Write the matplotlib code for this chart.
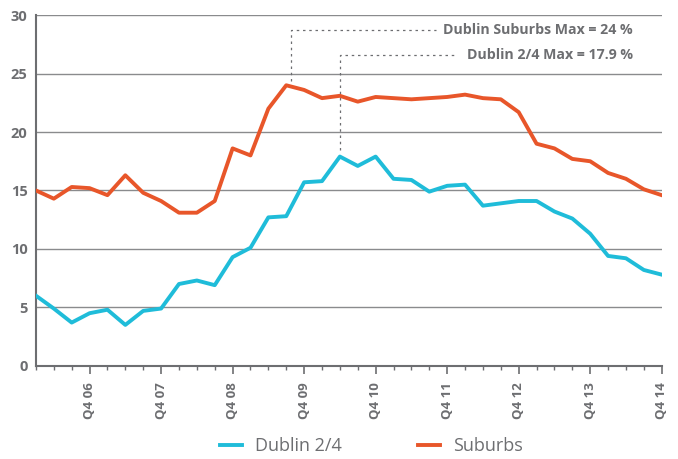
import matplotlib.pyplot as plt
import numpy as np

quarters = ['Q1 06', 'Q2 06', 'Q3 06', 'Q4 06', 'Q1 07', 'Q2 07', 'Q3 07', 'Q4 07',
            'Q1 08', 'Q2 08', 'Q3 08', 'Q4 08', 'Q1 09', 'Q2 09', 'Q3 09', 'Q4 09',
            'Q1 10', 'Q2 10', 'Q3 10', 'Q4 10', 'Q1 11', 'Q2 11', 'Q3 11', 'Q4 11',
            'Q1 12', 'Q2 12', 'Q3 12', 'Q4 12', 'Q1 13', 'Q2 13', 'Q3 13', 'Q4 13',
            'Q1 14', 'Q2 14', 'Q3 14', 'Q4 14']

dublin24 = [6.0, 4.9, 3.7, 4.5, 4.8, 3.5, 4.7, 4.9, 7.0, 7.3, 6.9, 9.3,
            10.1, 12.7, 12.8, 15.7, 15.8, 17.9, 17.1, 17.9, 16.0, 15.9, 14.9, 15.4,
            15.5, 13.7, 13.9, 14.1, 14.1, 13.2, 12.6, 11.3, 9.4, 9.2, 8.2, 7.8]

suburbs = [15.0, 14.3, 15.3, 15.2, 14.6, 16.3, 14.8, 14.1, 13.1, 13.1, 14.1, 18.6,
           18.0, 22.0, 24.0, 23.6, 22.9, 23.1, 22.6, 23.0, 22.9, 22.8, 22.9, 23.0,
           23.2, 22.9, 22.8, 21.7, 19.0, 18.6, 17.7, 17.5, 16.5, 16.0, 15.1, 14.6]

grey = '#6d6e71'
cyan = '#1fbcd9'
orange = '#e8562a'

plt.rcParams['font.family'] = ['Open Sans', 'DejaVu Sans']

fig = plt.figure(figsize=(6.78, 4.59), dpi=100)
ax = fig.add_axes([0.053, 0.203, 0.923, 0.764])

x = np.arange(len(quarters))
ax.plot(x, dublin24, color=cyan, lw=2.8, label='Dublin 2/4', zorder=3)
ax.plot(x, suburbs, color=orange, lw=2.8, label='Suburbs', zorder=3)

ax.set_xlim(0, len(quarters) - 1)
ax.set_ylim(0, 30)
ax.set_yticks(range(0, 31, 5))
ax.grid(axis='y', color='#8a8b8d', lw=1)
ax.set_axisbelow(True)

major = [i for i, q in enumerate(quarters) if q.startswith('Q4')]
ax.set_xticks(major)
ax.set_xticklabels([quarters[i] for i in major], rotation=90, fontweight='bold',
                   color=grey, fontsize=9.5)
ax.set_xticks(x, minor=True)
ax.tick_params(axis='x', which='major', length=6, width=1.2, color=grey, pad=6)
ax.tick_params(axis='x', which='minor', length=3, width=1, color=grey)
ax.tick_params(axis='y', length=0, pad=6, labelcolor=grey, labelsize=10.5)
for lab in ax.get_yticklabels():
    lab.set_fontweight('bold')

for s in ['top', 'right']:
    ax.spines[s].set_visible(False)
for s in ['left', 'bottom']:
    ax.spines[s].set_color(grey)
    ax.spines[s].set_linewidth(1.5)

# max annotations
i_sub = int(np.argmax(suburbs))
i_dub = int(np.argmax(dublin24))
ax.plot([i_sub + 0.25, i_sub + 0.25, 22.4], [suburbs[i_sub] + 0.4, 28.7, 28.7],
        ls=(0, (2, 3)), color=grey, lw=0.9)
ax.text(33.4, 28.7, 'Dublin Suburbs Max = 24 %', ha='right', va='center',
        fontsize=10.2, fontweight='bold', color=grey)
ax.plot([i_dub, i_dub, 23.5], [dublin24[i_dub] + 0.6, 26.6, 26.6],
        ls=(0, (2, 3)), color=grey, lw=0.9)
ax.text(33.4, 26.6, 'Dublin 2/4 Max = 17.9 %', ha='right', va='center',
        fontsize=10.2, fontweight='bold', color=grey)

leg = fig.legend(loc='center', ncol=2, frameon=False, bbox_to_anchor=(0.548, 0.028),
                 handlelength=1.2, handletextpad=0.75, columnspacing=4.2, fontsize=13)
for t in leg.get_texts():
    t.set_color(grey)

fig.savefig('out.png', dpi=100)
